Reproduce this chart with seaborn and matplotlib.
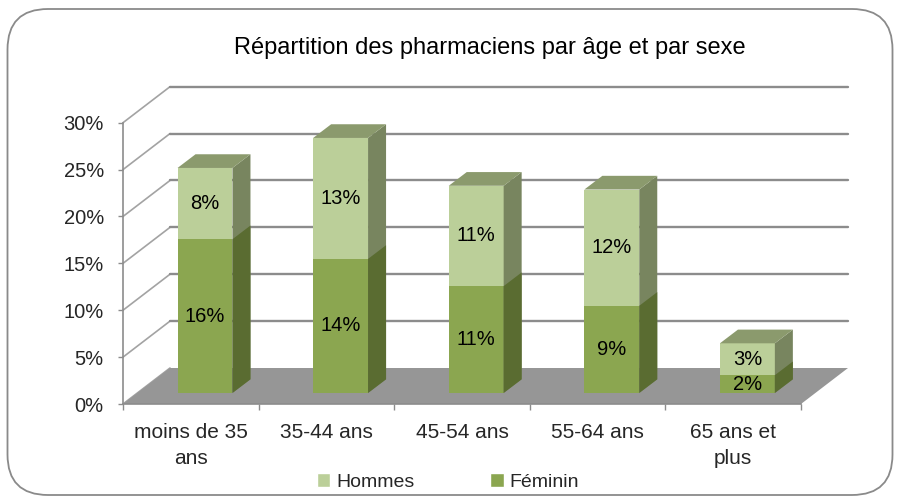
import matplotlib
matplotlib.use("Agg")
import numpy as np
import pandas as pd
import matplotlib.pyplot as plt
import seaborn as sns
from matplotlib.patches import Polygon, Patch, FancyBboxPatch

# values, in percent
ages = ["moins de 35 ans", "35-44 ans", "45-54 ans", "55-64 ans", "65 ans et plus"]
age_labels = ["moins de 35\nans", "35-44 ans", "45-54 ans", "55-64 ans", "65 ans et\nplus"]
feminin = [16.4, 14.3, 11.4, 9.3, 1.9]
hommes = [7.6, 12.9, 10.7, 12.4, 3.4]
y_ticks = [0, 5, 10, 15, 20, 25, 30]

sns.set_style("white")
plt.rcParams["font.family"] = ["Liberation Sans", "DejaVu Sans"]

# colours (office olive theme)
C_H = "#BBCF99"
C_H_SIDE = "#78855F"
C_F = "#8BA650"
C_F_SIDE = "#5A6C31"
C_TOP = "#8B9A6D"
C_FLOOR = "#969696"
C_GRID = "#8C8C8C"
C_SIDEGRID = "#A3A3A3"

W, H = 900, 504
fig = plt.figure(figsize=(W / 100, H / 100), dpi=100)

# outer rounded frame
frame = FancyBboxPatch((7.5 / W, 9 / H), 885 / W, 486 / H, boxstyle="round,pad=0,rounding_size=0.045",
                       transform=fig.transFigure, facecolor="white", edgecolor="#8A8A8A", lw=1.3,
                       mutation_aspect=W / H, zorder=-5)
fig.patches.append(frame)

# front plane of the pseudo-3D box (pixels)
left_px, right_px, base_px, top_px = 123, 801, 100, 381.3
ax = fig.add_axes([left_px / W, base_px / H, (right_px - left_px) / W, (top_px - base_px) / H])
ax.set_facecolor("none")

df = pd.DataFrame({"age": ages, "Féminin": feminin, "Hommes": hommes})
df["total"] = df["Féminin"] + df["Hommes"]

sns.barplot(data=df, x="age", y="total", color=C_H, saturation=1, width=0.405,
            linewidth=0, errorbar=None, ax=ax, zorder=4)
n_tot = len(ax.patches)
sns.barplot(data=df, x="age", y="Féminin", color=C_F, saturation=1, width=0.405,
            linewidth=0, errorbar=None, ax=ax, zorder=4)
bars = list(ax.patches)

ax.set_xlim(-0.5, 4.5)
ax.set_ylim(0, 30)

# pixel depth offsets -> data units
ux = (right_px - left_px) / 5
uy = (top_px - base_px) / 30
wall = (47 / ux, 36 / uy)
front = (14.2 / ux, 11 / uy)
depth = (18 / ux, 13.7 / uy)

# floor and walls
ax.add_patch(Polygon([(-0.5, 0), (4.5, 0), (4.5 + wall[0], wall[1]), (-0.5 + wall[0], wall[1])],
                     facecolor=C_FLOOR, lw=0, zorder=2, clip_on=False))
for v in y_ticks:
    ax.plot([-0.5, -0.5 + wall[0]], [v, v + wall[1]], color=C_SIDEGRID, lw=1.2, zorder=1, clip_on=False)
    if v > 0:
        ax.plot([-0.5 + wall[0], 4.5 + wall[0]], [v + wall[1]] * 2, color=C_GRID, lw=1.7,
                zorder=1, clip_on=False)

# bars: push back into the box and add side / top faces
for i, p in enumerate(bars):
    p.set_x(p.get_x() + front[0])
    p.set_y(p.get_y() + front[1])
    x0, y0 = p.get_x(), p.get_y()
    x1, y1 = x0 + p.get_width(), y0 + p.get_height()
    dx, dy = depth
    side = C_H_SIDE if i < n_tot else C_F_SIDE
    ax.add_patch(Polygon([(x1, y0), (x1 + dx, y0 + dy), (x1 + dx, y1 + dy), (x1, y1)],
                         facecolor=side, lw=0, zorder=4, clip_on=False))
    if i < n_tot:
        ax.add_patch(Polygon([(x0, y1), (x1, y1), (x1 + dx, y1 + dy), (x0 + dx, y1 + dy)],
                             facecolor=C_TOP, lw=0, zorder=4, clip_on=False))

# value labels
for i in range(len(ages)):
    xc = i + front[0]
    ax.text(xc, front[1] + feminin[i] / 2, f"{feminin[i]:.0f}%", ha="center", va="center",
            fontsize=14.5, color="black", zorder=6)
    ax.text(xc, front[1] + feminin[i] + hommes[i] / 2, f"{hommes[i]:.0f}%", ha="center", va="center",
            fontsize=14.5, color="black", zorder=6)

# axes
ax.set_xlabel("")
ax.set_ylabel("")
ax.set_yticks(y_ticks, labels=[f"{v}%" for v in y_ticks])
ax.set_xticks(range(len(ages)), labels=age_labels)
ax.set_xticks(np.arange(-0.5, len(ages)), minor=True)
ax.tick_params(axis="y", left=True, length=3.3, width=1, color=C_GRID, pad=10.5, labelsize=14.5)
ax.tick_params(axis="x", which="major", bottom=True, length=0, pad=13.5, labelsize=15)
ax.tick_params(axis="x", which="minor", bottom=True, length=4, width=1, color=C_GRID)
for lab in ax.get_xticklabels():
    lab.set_linespacing(1.45)
for s in ["top", "right"]:
    ax.spines[s].set_visible(False)
for s in ["left", "bottom"]:
    ax.spines[s].set_color(C_GRID)
    ax.spines[s].set_linewidth(1.2)

fig.text(490 / W, 1 - 48 / H, "Répartition des pharmaciens par âge et par sexe",
         ha="center", va="center", fontsize=17, color="black")

handles = [Patch(facecolor=C_H, label="Hommes"), Patch(facecolor=C_F, label="Féminin")]
fig.legend(handles=handles, loc="center", bbox_to_anchor=(448 / W, 22 / H), ncol=2, frameon=False,
           fontsize=14, handlelength=0.7, handleheight=0.7, handletextpad=0.3, columnspacing=3.9)

fig.savefig("out.png", dpi=100)
